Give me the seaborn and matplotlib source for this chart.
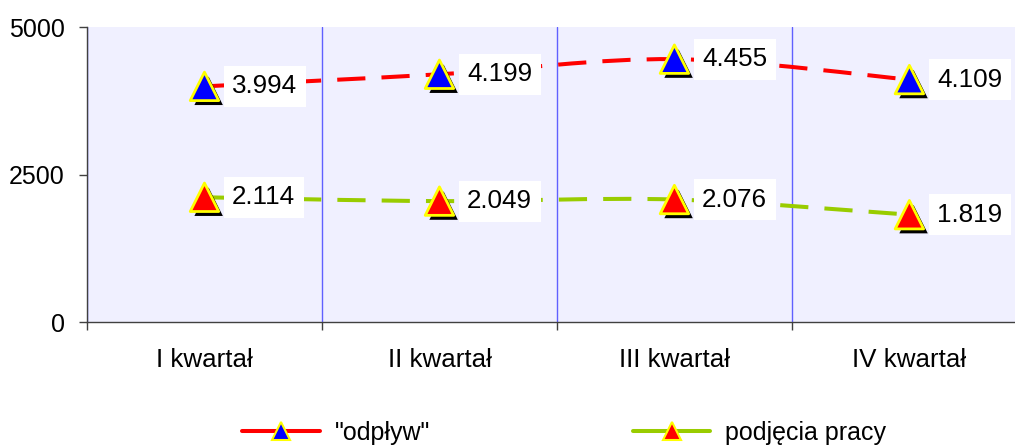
import matplotlib
matplotlib.use("Agg")
import matplotlib.pyplot as plt
import matplotlib.patheffects as pe
from matplotlib.path import Path
from matplotlib.patches import PathPatch
from matplotlib.lines import Line2D
import numpy as np
import pandas as pd
import seaborn as sns

quarters = ["I kwartał", "II kwartał", "III kwartał", "IV kwartał"]
odplyw = [3994, 4199, 4455, 4109]
podjecia = [2114, 2049, 2076, 1819]
series_names = ['"odpływ"', "podjęcia pracy"]

line_colors = {series_names[0]: "#FF0000", series_names[1]: "#99CC00"}
fill_colors = {series_names[0]: "#0000FF", series_names[1]: "#FF0000"}

sns.set_theme(style="white")
plt.rcParams["font.family"] = ["Liberation Sans", "DejaVu Sans"]
plt.rcParams["text.color"] = "black"
FS = 18.7


def smooth_path(xs, ys):
    # cubic bezier through the points (excel-like smoothing)
    pts = np.column_stack([xs, ys]).astype(float)
    n = len(pts)
    verts = [pts[0]]
    codes = [Path.MOVETO]
    for i in range(n - 1):
        p0 = pts[max(i - 1, 0)]
        p1 = pts[i]
        p2 = pts[i + 1]
        p3 = pts[min(i + 2, n - 1)]
        c1 = p1 + (p2 - p0) / 6.0
        c2 = p2 - (p3 - p1) / 6.0
        verts += [c1, c2, p2]
        codes += [Path.CURVE4] * 3
    return Path(verts, codes)


df = pd.DataFrame({
    "x": list(range(len(quarters))) * 2,
    "value": odplyw + podjecia,
    "series": [series_names[0]] * len(odplyw) + [series_names[1]] * len(podjecia),
})

fig = plt.figure(figsize=(10.15, 4.45), dpi=100)
ax = fig.add_axes([0.0857, 0.2764, 0.926, 0.6629])
ax.set_facecolor("#F0F0FF")

for name in series_names:
    sub = df[df["series"] == name]
    patch = PathPatch(smooth_path(sub["x"], sub["value"]), fill=False,
                      edgecolor=line_colors[name], lw=2.9,
                      linestyle=(0, (7, 4)), capstyle="butt", zorder=3)
    ax.add_patch(patch)

sns.scatterplot(data=df, x="x", y="value", hue="series", palette=fill_colors,
                marker="^", s=420, edgecolor="#FFFF00", linewidth=2,
                legend=False, ax=ax, zorder=4)
ax.collections[-1].set_path_effects([
    pe.SimplePatchShadow(offset=(3, -3.2), shadow_rgbFace="black", alpha=1),
    pe.Normal(),
])

for x, v in zip(df["x"], df["value"]):
    ax.annotate(f"{v:,}".replace(",", "."), (x, v), xytext=(20, 0),
                textcoords="offset points", ha="left", va="center",
                fontsize=FS, color="black", zorder=5,
                bbox=dict(boxstyle="square,pad=0.33", fc="white", ec="none"))

ax.set_xlim(-0.5, len(quarters) - 0.5)
ax.set_ylim(0, 5000)
ax.set_yticks([0, 2500, 5000])
ax.set_xticks(np.arange(-0.5, len(quarters), 1.0))
ax.set_xticklabels([])
ax.set_xticks(range(len(quarters)), minor=True)
ax.set_xticklabels(quarters, minor=True)
ax.set_xlabel("")
ax.set_ylabel("")

ax.tick_params(axis="x", which="major", direction="out", length=6,
               width=1, color="#404040", bottom=True)
ax.tick_params(axis="x", which="minor", length=0, pad=19, labelsize=FS,
               labelcolor="black")
ax.tick_params(axis="y", direction="out", length=6, width=1,
               color="#404040", left=True, pad=10, labelsize=18,
               labelcolor="black")

ax.xaxis.grid(True, which="major", color="#6060FF", lw=1)
ax.yaxis.grid(False)
ax.set_axisbelow(True)

for side in ["top", "right"]:
    ax.spines[side].set_visible(False)
for side in ["left", "bottom"]:
    ax.spines[side].set_color("#404040")
    ax.spines[side].set_linewidth(1)

handles = [
    Line2D([], [], color=line_colors[n], lw=2.9, marker="^", markersize=13,
           markerfacecolor=fill_colors[n], markeredgecolor="#FFFF00",
           markeredgewidth=1.5)
    for n in series_names
]
fig.legend(handles, series_names, loc="center", bbox_to_anchor=(0.556, 0.028),
           ncol=2, frameon=False, fontsize=18, handlelength=3.1,
           handletextpad=0.6, columnspacing=8.1)

fig.savefig("out.png", dpi=100)
